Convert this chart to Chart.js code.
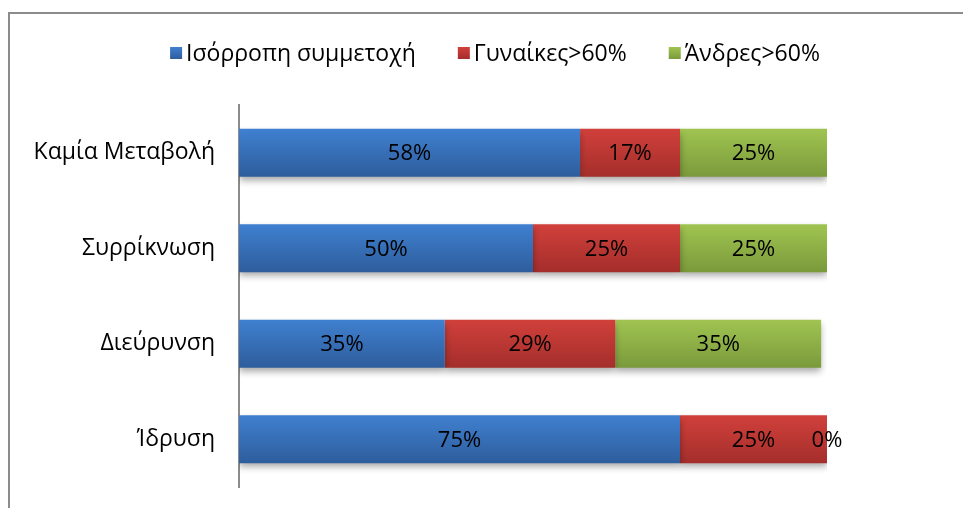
<!DOCTYPE html>
<html>
<head>
<meta charset="utf-8">
<script src="https://cdn.jsdelivr.net/npm/chart.js@4.4.1/dist/chart.umd.min.js"></script>
<style>
  html, body { margin: 0; padding: 0; background: #fff; }
  #wrap { position: relative; width: 963px; height: 508px; }
</style>
</head>
<body>
<div id="wrap"><canvas id="chart" width="963" height="508"></canvas></div>
<script>
// --- data ---
const categories = ['Καμία Μεταβολή', 'Συρρίκνωση', 'Διεύρυνση', 'Ίδρυση'];
const seriesNames = ['Ισόρροπη συμμετοχή', 'Γυναίκες>60%', 'Άνδρες>60%'];
const balanced = [58, 50, 35, 75];
const women = [17, 25, 29, 25];
const men = [25, 25, 35, 0];
const xTicks = [0, 100];

// top / bottom colours of each series gradient
const palette = [
    ['#3f80d0', '#2e5d9c'],
    ['#d1403b', '#a42e2b'],
    ['#a0c451', '#7a9a3b']
];

const BAR_PCT = 0.504;
const FONT = '"Open Sans", sans-serif';

const gradientFor = (idx) => (ctx) => {
    const [top, bottom] = palette[idx];
    const yScale = ctx.chart.scales && ctx.chart.scales.y;
    if (ctx.type !== 'data' || !yScale || !yScale.height) return top;
    const cy = yScale.getPixelForValue(ctx.dataIndex);
    const half = yScale.height / categories.length * BAR_PCT / 2;
    const g = ctx.chart.ctx.createLinearGradient(0, cy - half, 0, cy + half);
    g.addColorStop(0, top);
    g.addColorStop(1, bottom);
    return g;
};

// outer frame (top + left edge of the Excel chart box)
const framePlugin = {
    id: 'frame',
    beforeDraw(chart) {
        const c = chart.ctx;
        c.save();
        c.strokeStyle = '#8c8c8c';
        c.lineWidth = 2;
        c.beginPath();
        c.moveTo(9, chart.height);
        c.lineTo(9, 13);
        c.lineTo(chart.width, 13);
        c.stroke();
        c.restore();
    }
};

// legend row on top, Excel style (small gradient box, tight text)
const legendRow = {
    id: 'legendRow',
    afterDraw(chart) {
        const c = chart.ctx;
        const box = 12, gap = 4, itemGap = 42, cy = 53, centerX = 495;
        c.save();
        c.font = '23px ' + FONT;
        c.textBaseline = 'middle';
        c.textAlign = 'left';
        const widths = seriesNames.map(n => c.measureText(n).width);
        const total = widths.reduce((a, w) => a + box + gap + w, 0) + itemGap * (seriesNames.length - 1);
        let x = centerX - total / 2;
        seriesNames.forEach((name, i) => {
            const g = c.createLinearGradient(0, cy - box / 2, 0, cy + box / 2);
            g.addColorStop(0, palette[i][0]);
            g.addColorStop(1, palette[i][1]);
            c.fillStyle = g;
            c.fillRect(x, cy - box / 2, box, box);
            c.fillStyle = '#000';
            c.fillText(name, x + box + gap, cy + 1);
            x += box + gap + widths[i] + itemGap;
        });
        c.restore();
    }
};

// soft drop shadow under the bars
const shadowPlugin = {
    id: 'barShadow',
    beforeDatasetsDraw(chart) {
        const c = chart.ctx;
        c.save();
        c.shadowColor = 'rgba(0,0,0,0.35)';
        c.shadowBlur = 7;
        c.shadowOffsetX = 0;
        c.shadowOffsetY = 4;
    },
    afterDatasetsDraw(chart) {
        chart.ctx.restore();
    }
};

// percentage labels centred in each segment
const valueLabels = {
    id: 'valueLabels',
    afterDatasetsDraw(chart) {
        const c = chart.ctx;
        c.save();
        c.font = '22px ' + FONT;
        c.fillStyle = '#000';
        c.textAlign = 'center';
        c.textBaseline = 'middle';
        chart.data.datasets.forEach((ds, i) => {
            const meta = chart.getDatasetMeta(i);
            meta.data.forEach((bar, j) => {
                const x = (bar.x + bar.base) / 2;
                c.fillText(ds.data[j] + '%', x, bar.y + 1);
            });
        });
        c.restore();
    }
};

new Chart(document.getElementById('chart'), {
    type: 'bar',
    data: {
        labels: categories,
        datasets: [
            { label: seriesNames[0], data: balanced, backgroundColor: gradientFor(0) },
            { label: seriesNames[1], data: women, backgroundColor: gradientFor(1) },
            { label: seriesNames[2], data: men, backgroundColor: gradientFor(2) }
        ]
    },
    options: {
        indexAxis: 'y',
        responsive: false,
        animation: false,
        devicePixelRatio: 1,
        layout: { padding: { left: 20, right: 136, top: 105, bottom: 21 } },
        datasets: {
            bar: { barPercentage: BAR_PCT, categoryPercentage: 1, borderWidth: 0 }
        },
        plugins: {
            tooltip: { enabled: false },
            legend: { display: false }
        },
        scales: {
            x: {
                stacked: true,
                display: false,
                min: xTicks[0],
                max: xTicks[1]
            },
            y: {
                stacked: true,
                grid: { display: false, drawTicks: false },
                border: { display: true, color: '#8c8c8c', width: 2 },
                ticks: {
                    color: '#000',
                    padding: 24,
                    font: { family: FONT, size: 23 }
                },
                afterFit: (scale) => {
                    // fixed axis width, and no extra room for edge labels
                    scale.width = 219;
                    scale.paddingTop = 0;
                    scale.paddingBottom = 0;
                }
            }
        }
    },
    plugins: [framePlugin, shadowPlugin, valueLabels, legendRow]
});
</script>
</body>
</html>
